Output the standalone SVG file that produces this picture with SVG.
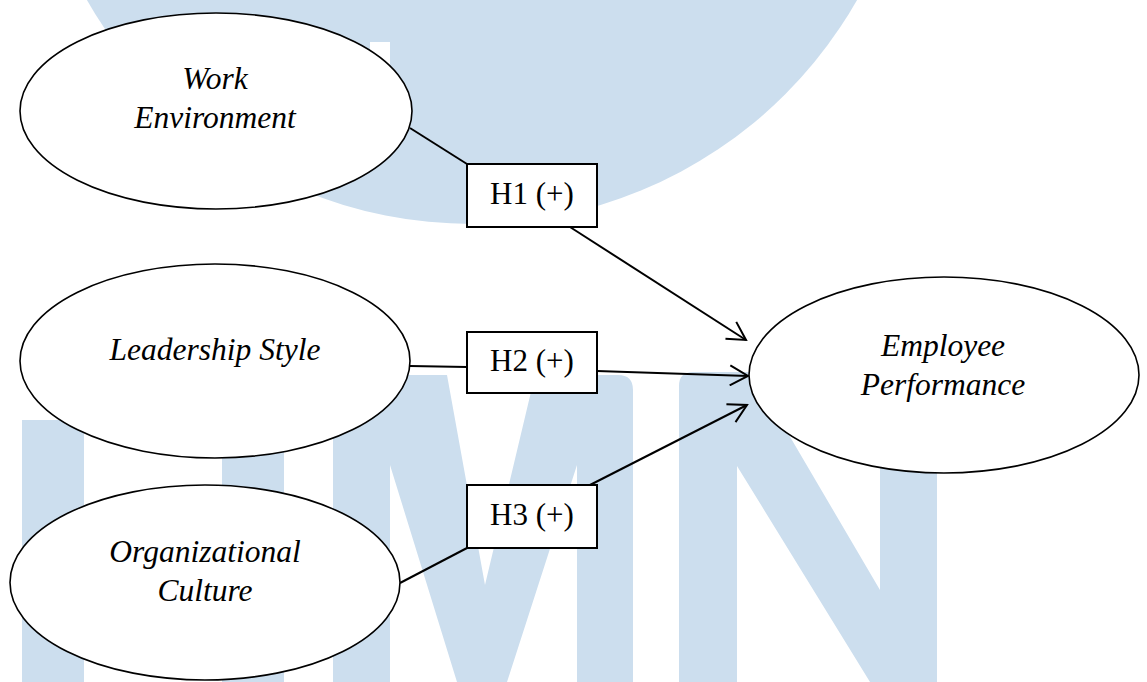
<svg xmlns="http://www.w3.org/2000/svg" width="1147" height="682" viewBox="0 0 1147 682">
<defs>
<style>
.wm{fill:#CCDEEE;stroke:none}
.node{fill:#fff;stroke:#000;stroke-width:1.6}
.box{fill:#fff;stroke:#000;stroke-width:2}
.lbl{font-family:"Liberation Serif","Times New Roman",serif;font-size:31.5px;font-style:italic;fill:#000;text-anchor:middle}
.hyp{font-family:"Liberation Serif","Times New Roman",serif;font-size:31px;fill:#000;text-anchor:middle}
.conn{stroke:#000;stroke-width:2;fill:none}
</style>
<marker id="arrow" markerUnits="userSpaceOnUse" markerWidth="22" markerHeight="22" viewBox="0 0 22 22" refX="20" refY="11" orient="auto">
<path d="M2,1 L20,11 L2,21" fill="none" stroke="#000" stroke-width="2"/>
</marker>
</defs>
<rect width="1147" height="682" fill="#fff"/>
<g id="watermark">
<circle class="wm" cx="472" cy="-219" r="443"/>
<rect x="370" y="42" width="20" height="110" fill="#fff"/>
<rect class="wm" x="22" y="420" width="62" height="262"/>
<rect class="wm" x="222" y="420" width="62" height="262"/>
<path class="wm" d="M333,682 L333,390 Q333,375 348,375 L447,375 L485,585 L535,375 L618,375 Q633,375 633,390 L633,682 L577,682 L577,465 L507,682 L457,682 L390,465 L390,682 Z"/>
<path class="wm" d="M679,682 L679,386 Q679,372 693,372 L752,372 L880,590 L880,372 L937,372 L937,682 L870,682 L737,466 L737,682 Z"/>
</g>
<g id="connectors">
<line class="conn" x1="410" y1="128" x2="467" y2="164"/>
<line class="conn" x1="570" y1="227" x2="746" y2="340" marker-end="url(#arrow)"/>
<line class="conn" x1="410" y1="366" x2="467" y2="367"/>
<line class="conn" x1="597" y1="371" x2="748" y2="376" marker-end="url(#arrow)"/>
<line class="conn" x1="400" y1="583" x2="467" y2="548"/>
<line class="conn" x1="590" y1="485" x2="747" y2="405" marker-end="url(#arrow)"/>
</g>
<g id="node-work-environment">
<ellipse class="node" cx="216" cy="111" rx="196" ry="98"/>
<text class="lbl" x="215" y="89">Work</text>
<text class="lbl" x="215" y="128">Environment</text>
</g>
<g id="node-leadership-style">
<ellipse class="node" cx="215" cy="361" rx="195" ry="97"/>
<text class="lbl" x="215" y="360">Leadership Style</text>
</g>
<g id="node-organizational-culture">
<ellipse class="node" cx="205" cy="582.5" rx="195" ry="97.5"/>
<text class="lbl" x="205" y="562">Organizational</text>
<text class="lbl" x="205" y="601">Culture</text>
</g>
<g id="node-employee-performance">
<ellipse class="node" cx="944" cy="375" rx="195" ry="98"/>
<text class="lbl" x="943" y="356">Employee</text>
<text class="lbl" x="943" y="395">Performance</text>
</g>
<g id="node-h1">
<rect class="box" x="467" y="164" width="130" height="63"/>
<text class="hyp" x="532" y="204">H1 (+)</text>
</g>
<g id="node-h2">
<rect class="box" x="467" y="332" width="130" height="61"/>
<text class="hyp" x="532" y="371">H2 (+)</text>
</g>
<g id="node-h3">
<rect class="box" x="467" y="485" width="130" height="63"/>
<text class="hyp" x="532" y="525">H3 (+)</text>
</g>
</svg>
